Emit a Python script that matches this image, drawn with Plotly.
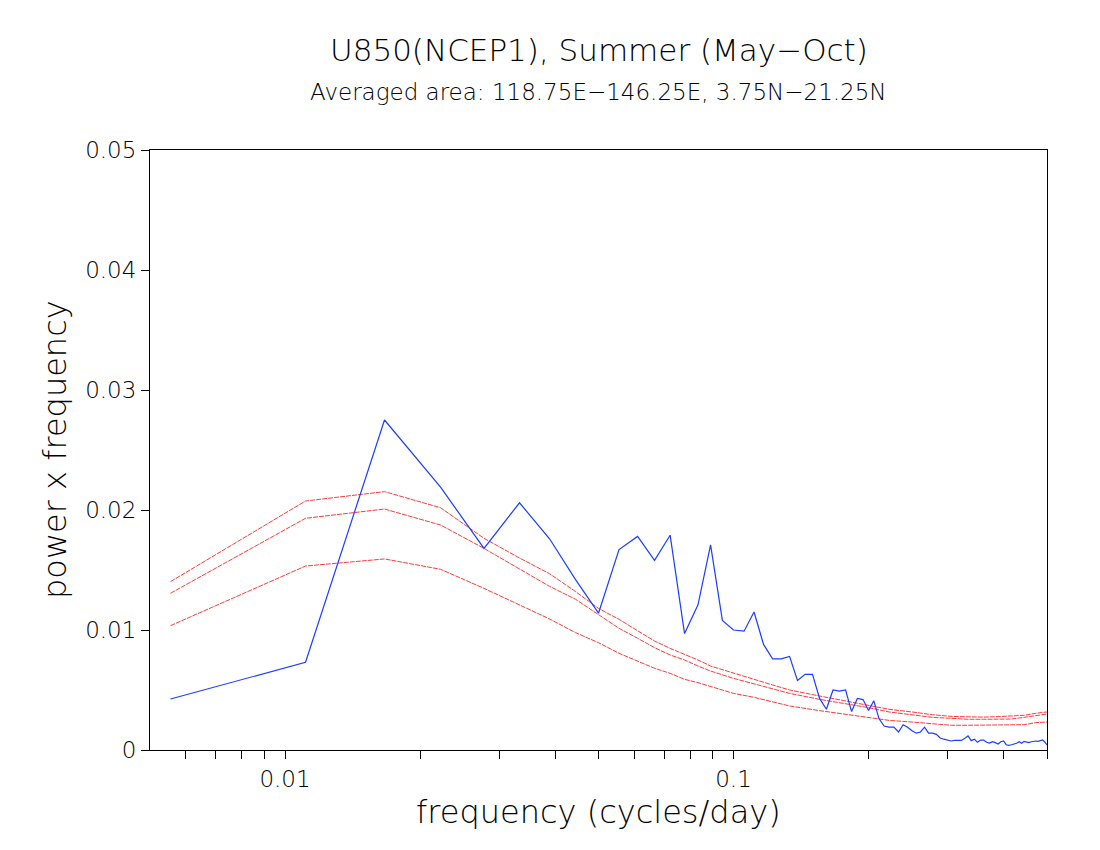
import plotly.graph_objects as go

# spectrum of U850, harmonics of a 180-day season
N_DAYS = 180
harmonic = list(range(1, 91))
power_freq = [
    0.00425, 0.00731, 0.0275, 0.0219, 0.0168, 0.0206, 0.0176, 0.0142, 0.0114, 0.0167,
    0.0178, 0.0158, 0.0179, 0.0097, 0.0121, 0.0171, 0.0108, 0.0100, 0.0099, 0.0115,
    0.0088, 0.0076, 0.0076, 0.0078, 0.0058, 0.0063, 0.0063, 0.0043, 0.0034, 0.0050,
    0.0049, 0.0050, 0.0032, 0.0043, 0.0042, 0.0033, 0.0041, 0.0026, 0.0020, 0.0019,
    0.0019, 0.0015, 0.0021, 0.0019, 0.0016, 0.0014, 0.0015, 0.0019, 0.0014, 0.0014,
    0.0013, 0.0010, 0.0009, 0.0008, 0.00075, 0.0008, 0.0008, 0.0008, 0.00097, 0.00117,
    0.00078, 0.00089, 0.00064, 0.00083, 0.00083, 0.00064, 0.00058, 0.00069, 0.00061, 0.0005,
    0.00069, 0.00075, 0.00044, 0.00039, 0.00044, 0.0005, 0.00056, 0.00069, 0.00056, 0.00072,
    0.00067, 0.00061, 0.00069, 0.00075, 0.00075, 0.00072, 0.00078, 0.00083, 0.00067, 0.00042,
]

# red-noise curves read at selected harmonics
red_k = [1, 2, 3, 4, 5, 6, 7, 8, 9, 10, 11, 12, 13, 14, 15, 16, 18, 20, 22, 24,
         28, 32, 36, 40, 45, 50, 55, 60, 65, 70, 75, 80, 85, 90]
red_upper = [0.01403, 0.02075, 0.02153, 0.02019, 0.01764, 0.0160, 0.01469, 0.0132, 0.0118, 0.01089,
             0.00994, 0.00908, 0.00847, 0.00797, 0.0075, 0.0070, 0.00639, 0.00589, 0.00542, 0.0050,
             0.0045, 0.00408, 0.00369, 0.00339, 0.00317, 0.00294, 0.0028, 0.00275, 0.00274, 0.00278,
             0.00283, 0.00289, 0.00306, 0.00317]
red_middle = [0.01306, 0.01931, 0.02008, 0.01875, 0.0168, 0.01508, 0.01364, 0.01256, 0.0113, 0.01014,
              0.00931, 0.00853, 0.00792, 0.0075, 0.0070, 0.00658, 0.00597, 0.0055, 0.00506, 0.00472,
              0.00422, 0.00386, 0.00353, 0.00317, 0.00294, 0.00272, 0.00264, 0.00256, 0.00256, 0.00256,
              0.00258, 0.00272, 0.00286, 0.0030]
red_lower = [0.01036, 0.01533, 0.01592, 0.01506, 0.01347, 0.01208, 0.01092, 0.00978, 0.00894, 0.00806,
             0.00742, 0.00681, 0.00639, 0.00589, 0.00561, 0.00528, 0.00472, 0.00439, 0.00403, 0.00367,
             0.00328, 0.00297, 0.00269, 0.00247, 0.00233, 0.00217, 0.00206, 0.00206, 0.00206, 0.00206,
             0.00208, 0.00211, 0.00228, 0.00233]

x_ticks = [0.006, 0.007, 0.008, 0.009, 0.01, 0.02, 0.03, 0.04, 0.05, 0.06, 0.07, 0.08, 0.09, 0.1,
           0.2, 0.3, 0.4, 0.5]
x_labels = {0.01: "0.01", 0.1: "0.1"}

freq = [k / N_DAYS for k in harmonic]
red_freq = [k / N_DAYS for k in red_k]

FONT = "DejaVu Sans"
BLUE = "rgb(30,60,255)"
RED = "rgb(250,60,60)"

fig = go.Figure()
for curve in (red_upper, red_middle, red_lower):
    fig.add_trace(go.Scatter(x=red_freq, y=curve, mode="lines",
                             line=dict(color=RED, width=1, dash="5px,1px")))
fig.add_trace(go.Scatter(x=freq, y=power_freq, mode="lines",
                         line=dict(color=BLUE, width=1.2)))

# page body adds 8px offset, so margins are shifted to keep the box at 150..1047 / 150..750
fig.update_layout(
    width=1100, height=850,
    margin=dict(l=142, r=61, t=142, b=108),
    paper_bgcolor="white", plot_bgcolor="white",
    showlegend=False,
    font=dict(family=FONT, color="black", weight=200),
    xaxis=dict(
        type="log", range=[-2.30103, -0.30103],
        tickvals=x_ticks, ticktext=[x_labels.get(v, "") for v in x_ticks],
        ticks="outside", ticklen=8, tickcolor="black", tickwidth=1,
        tickfont=dict(size=23, family=FONT, color="black"),
        showgrid=False, zeroline=False,
        showline=True, linecolor="black", linewidth=1, mirror=True,
    ),
    yaxis=dict(
        range=[0, 0.05], tickvals=[0, 0.01, 0.02, 0.03, 0.04, 0.05],
        ticktext=["0", "0.01", "0.02", "0.03", "0.04", "0.05"],
        ticks="outside", ticklen=8, tickcolor="black", tickwidth=1,
        tickfont=dict(size=23, family=FONT, color="black"),
        showgrid=False, zeroline=False,
        showline=True, linecolor="black", linewidth=1, mirror=True,
    ),
    annotations=[
        dict(text="U850(NCEP1), Summer (May\u2212Oct)", x=0.5, y=1.1667,
             xref="paper", yref="paper", showarrow=False, yanchor="middle",
             font=dict(size=31, family=FONT, color="black")),
        dict(text="Averaged area: 118.75E\u2212146.25E, 3.75N\u221221.25N", x=0.5, y=1.0967,
             xref="paper", yref="paper", showarrow=False, yanchor="middle",
             font=dict(size=23, family=FONT, color="black")),
        dict(text="frequency (cycles/day)", x=0.5, y=-0.1033,
             xref="paper", yref="paper", showarrow=False, yanchor="middle",
             font=dict(size=32, family=FONT, color="black")),
        dict(text="power x frequency", x=-0.1059, y=0.5, textangle=-90,
             xref="paper", yref="paper", showarrow=False, xanchor="center", yanchor="middle",
             font=dict(size=32, family=FONT, color="black")),
    ],
)

fig.write_html("out.html")
